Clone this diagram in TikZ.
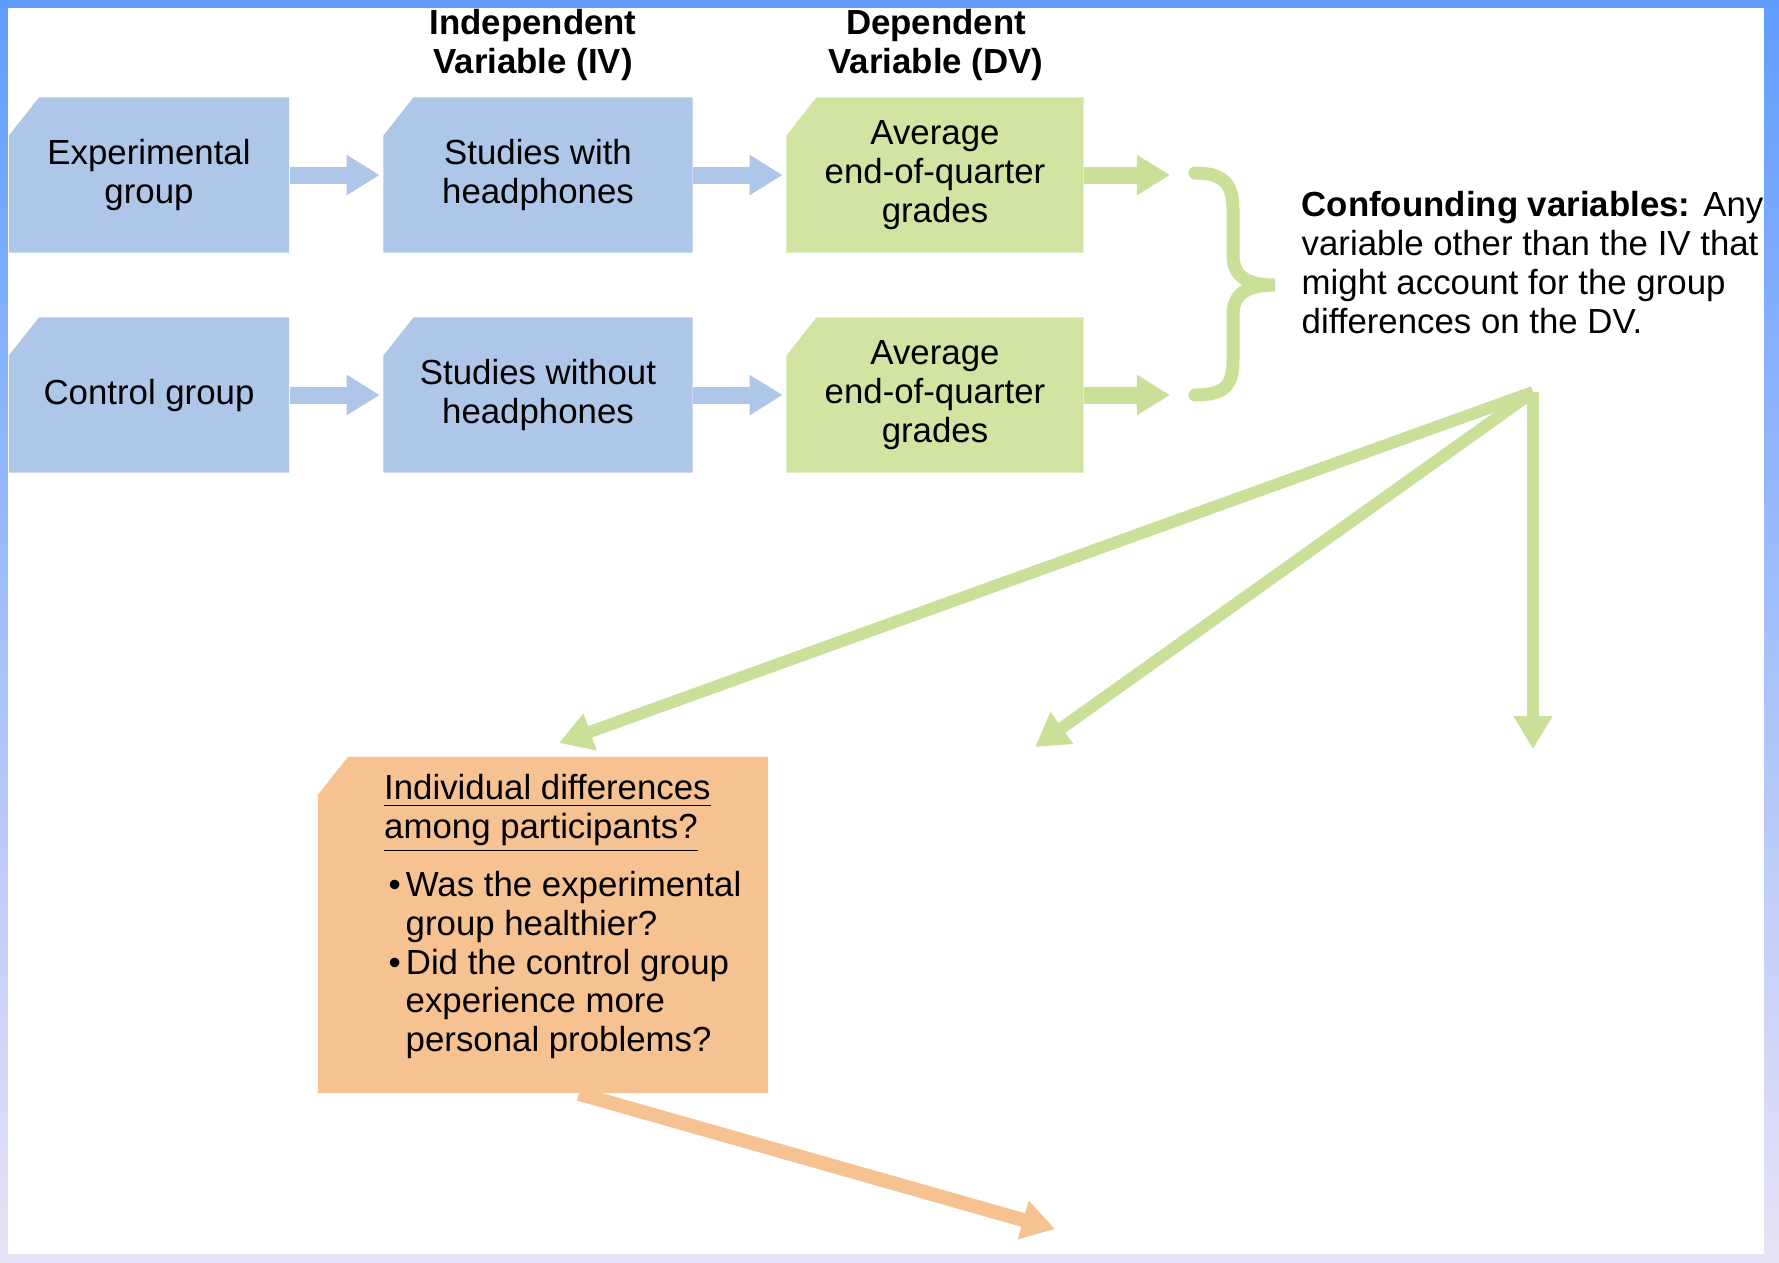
\documentclass[tikz,border=0pt]{standalone}
\usepackage{fontspec}
\setmainfont{Liberation Sans}
\usepackage{tikz}
\usetikzlibrary{arrows.meta, calc}
\usepackage{xcolor}
\definecolor{boxblue}{RGB}{174,198,232}
\definecolor{boxgreen}{RGB}{210,228,162}
\definecolor{arrowgreen}{RGB}{202,223,152}
\definecolor{boxorange}{RGB}{246,194,146}
\definecolor{frametop}{RGB}{96,157,255}
\definecolor{framebottom}{RGB}{232,226,246}

\newcommand{\diagfont}{\fontsize{9.9}{11}\selectfont}

\begin{document}
\begin{tikzpicture}[
  x=0.01cm, y=-0.01cm,
  cutbox/.style={
    rectangle, inner sep=0pt, align=center, font=\diagfont,
    path picture={
      \fill[#1] ([xshift=0.3cm]path picture bounding box.north west)
        -- (path picture bounding box.north east)
        -- (path picture bounding box.south east)
        -- (path picture bounding box.south west)
        -- ([yshift=-0.38cm]path picture bounding box.north west) -- cycle;
    }
  },
  grpbox/.style={cutbox=boxblue, minimum width=2.8cm, minimum height=1.55cm},
  ivbox/.style={cutbox=boxblue, minimum width=3.09cm, minimum height=1.55cm},
  dvbox/.style={cutbox=boxgreen, minimum width=2.97cm, minimum height=1.55cm},
  head/.style={anchor=north, align=center, font=\diagfont\bfseries, inner sep=0pt},
  note/.style={anchor=north west, align=left, font=\diagfont, inner sep=0pt},
  flow/.style={-{Triangle[length=0.33cm, width=0.38cm]}, line width=0.17cm, draw=boxblue, shorten >=0.03cm},
  dvflow/.style={flow, draw=arrowgreen},
  fan/.style={-{Triangle[length=0.33cm, width=0.37cm]}, line width=0.12cm, draw=arrowgreen},
  outflow/.style={-{Triangle[length=0.33cm, width=0.38cm]}, line width=0.14cm, draw=boxorange},
]

%% Frame
\useasboundingbox (0,0) rectangle (1779,1262);
\shade[top color=frametop, bottom color=framebottom] (0,0) rectangle (1779,1262);
\fill[white] (8,8) rectangle (1764,1254);

%% Column heads
\node[head] (ivhead) at (533,9) {Independent\\Variable (IV)};
\node[head] (dvhead) at (936,9) {Dependent\\Variable (DV)};

%% Groups
\node[grpbox] (exp)  at (149,175) {Experimental\\group};
\node[grpbox] (ctrl) at (149,395) {Control group};

\node[ivbox] (ivexp)  at (538,175) {Studies with\\headphones};
\node[ivbox] (ivctrl) at (538,395) {Studies without\\headphones};

\node[dvbox] (dvexp)  at (935,175) {Average\\end-of-quarter\\grades};
\node[dvbox] (dvctrl) at (935,395) {Average\\end-of-quarter\\grades};

\draw[flow] (exp.east) -- (ivexp.west);
\draw[flow] (ctrl.east) -- (ivctrl.west);
\draw[flow] (ivexp.east) -- (dvexp.west);
\draw[flow] (ivctrl.east) -- (dvctrl.west);

\coordinate (bexp)  at (1173,175);
\coordinate (bctrl) at (1173,395);
\draw[dvflow] (dvexp.east) -- (bexp);
\draw[dvflow] (dvctrl.east) -- (bctrl);

%% Brace
\draw[arrowgreen, line width=0.13cm, line cap=round]
  (1195,173) .. controls (1225,173) and (1233,185) .. (1233,210) -- (1233,255)
  .. controls (1233,275) and (1245,285) .. (1275,285)
  .. controls (1245,285) and (1233,295) .. (1233,315) -- (1233,360)
  .. controls (1233,385) and (1225,395) .. (1195,395);

\node[note] (conf) at (1301,191)
  {\textbf{Confounding variables:} Any\\variable other than the IV that\\might account for the group\\differences on the DV.};

%% Fan of confounds
\coordinate (apex) at (1533,392);
\coordinate (t1) at (559,743);
\coordinate (t2) at (1035,747);
\coordinate (t3) at (1533,749);
\foreach \t in {t1, t2, t3} {
  \draw[fan] (apex) -- (\t);
}

%% Individual differences
\node[cutbox=boxorange, minimum width=4.5cm, minimum height=3.36cm] (idbox) at (543,925) {};
\node[note] (idtext) at (383.5,774)
  {\underline{Individual differences}\\
   \underline{among participants?}\\[0.15cm]
   \hspace*{0.045cm}\textbullet\hspace{0.05cm}Was the experimental\\
   \hspace*{0.215cm}group healthier?\\
   \hspace*{0.045cm}\textbullet\hspace{0.05cm}Did the control group\\
   \hspace*{0.215cm}experience more\\
   \hspace*{0.215cm}personal problems?};

\coordinate (idout) at (1055,1229);
\draw[outflow] (idbox.-78) -- (idout);

\end{tikzpicture}
\end{document}
